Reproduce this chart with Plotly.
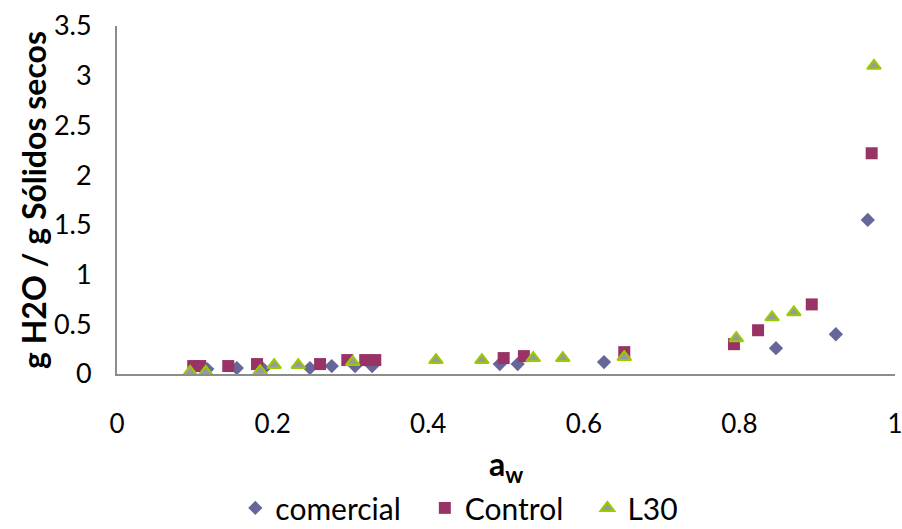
import plotly.graph_objects as go

com_x = [0.116, 0.154, 0.188, 0.248, 0.276, 0.306, 0.328, 0.492, 0.515, 0.626, 0.847, 0.924, 0.965]
com_y = [0.05, 0.06, 0.05, 0.06, 0.08, 0.08, 0.08, 0.10, 0.10, 0.12, 0.26, 0.40, 1.55]

ctl_x = [0.098, 0.107, 0.143, 0.180, 0.261, 0.296, 0.319, 0.332, 0.497, 0.523, 0.652, 0.793, 0.824, 0.893, 0.970]
ctl_y = [0.08, 0.08, 0.08, 0.10, 0.10, 0.14, 0.14, 0.14, 0.16, 0.18, 0.22, 0.30, 0.44, 0.70, 2.22]

l30_x = [0.094, 0.114, 0.184, 0.202, 0.233, 0.303, 0.410, 0.469, 0.535, 0.573, 0.652, 0.796, 0.842, 0.870, 0.973]
l30_y = [0.02, 0.02, 0.03, 0.09, 0.09, 0.12, 0.14, 0.14, 0.16, 0.16, 0.17, 0.36, 0.57, 0.62, 3.10]

x_ticks = [0, 0.2, 0.4, 0.6, 0.8, 1]
x_tick_text = ["0", "0.2", "0.4", "0.6", "0.8", "1"]
y_ticks = [0, 0.5, 1, 1.5, 2, 2.5, 3, 3.5]
y_tick_text = ["0", "0.5", "1", "1.5", "2", "2.5", "3", "3.5"]

FONT = "Lato, 'Open Sans', sans-serif"
NB = "\u00a0\u00a0\u2009"

fig = go.Figure()
fig.add_trace(go.Scatter(x=com_x, y=com_y, mode="markers", name="comercial" + NB,
                         marker=dict(symbol="diamond", size=11, color="#666699")))
fig.add_trace(go.Scatter(x=ctl_x, y=ctl_y, mode="markers", name="Control" + NB,
                         marker=dict(symbol="square", size=12, color="#993366")))
fig.add_trace(go.Scatter(x=l30_x, y=l30_y, mode="markers", name="L30",
                         marker=dict(symbol="triangle-up", size=12, color="#999999",
                                     line=dict(color="#99CC00", width=2))))

fig.update_layout(
    width=902, height=529,
    margin=dict(l=117, r=7, t=26, b=155, autoexpand=False),
    plot_bgcolor="white", paper_bgcolor="white",
    font=dict(family=FONT, size=27, color="#000000"),
    showlegend=True,
    legend=dict(orientation="h", x=0.44, xanchor="center", y=-0.31, yanchor="top",
                font=dict(size=30), itemwidth=30, tracegroupgap=0),
    xaxis=dict(range=[0, 1], tickvals=x_ticks, ticktext=x_tick_text, automargin=False,
               showgrid=False, zeroline=False, showline=True, linecolor="#8C8C8C", linewidth=2,
               ticks="", ticklabelstandoff=26, tickfont=dict(size=26),
               ticklabeloverflow="allow"),
    yaxis=dict(range=[0, 3.5], tickvals=y_ticks, ticktext=y_tick_text, automargin=False,
               showgrid=False, zeroline=False, showline=True, linecolor="#8C8C8C", linewidth=2,
               ticks="", ticklabelstandoff=18, ticklabeloverflow="allow"),
    annotations=[
        dict(text="<b>a<sub>w</sub></b>", xref="paper", yref="paper", x=0.5, y=0,
             xanchor="center", yanchor="middle", yshift=-92, showarrow=False,
             font=dict(size=32)),
        dict(text="<b>g H2O / g Sólidos secos</b>", xref="paper", yref="paper", x=0, y=0.5,
             xanchor="center", yanchor="middle", xshift=-84, textangle=-90, showarrow=False,
             font=dict(size=32)),
    ],
)

fig.write_html("out.html")
